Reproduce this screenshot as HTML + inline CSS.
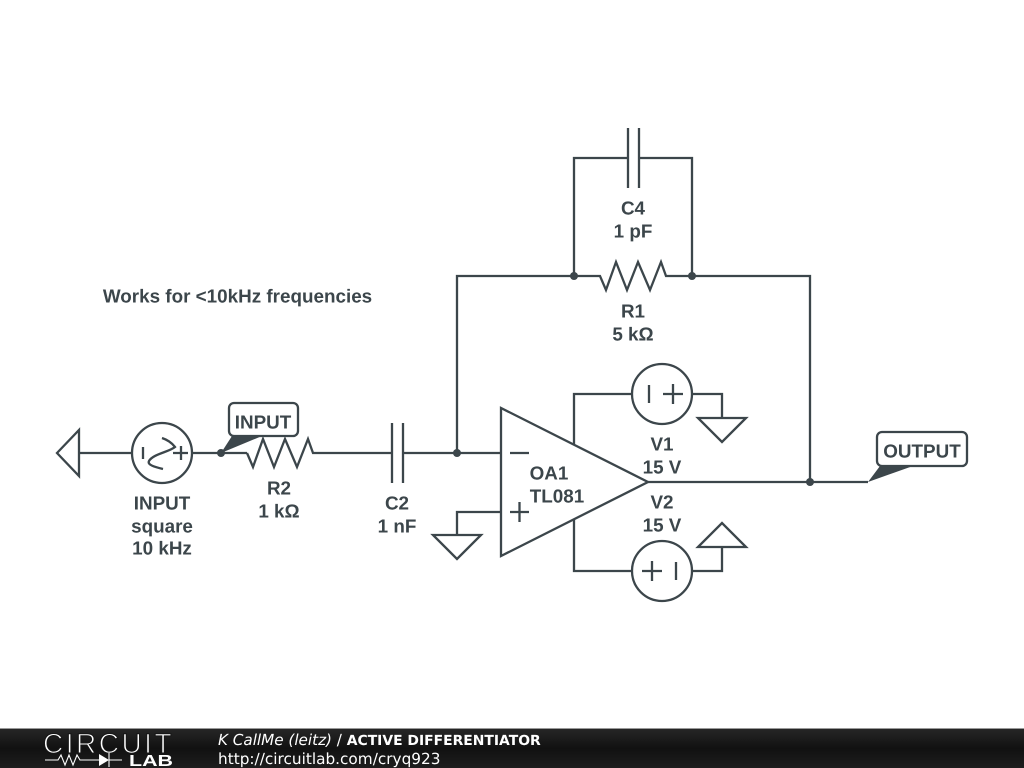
<!DOCTYPE html>
<html>
<head>
<meta charset="utf-8">
<style>
html,body{margin:0;padding:0;background:#fff;width:1024px;height:768px;overflow:hidden}
svg{display:block;text-rendering:geometricPrecision}
.w{fill:none;stroke:#3c464b;stroke-width:2.3;stroke-linejoin:miter}
.t text{font-family:"Liberation Sans",Arial,sans-serif;font-weight:bold;font-size:18.85px;fill:#3c464b;text-anchor:middle}
.d{fill:#3c464b}
</style>
</head>
<body>
<svg width="1024" height="768" viewBox="0 0 1024 768" xmlns="http://www.w3.org/2000/svg">
<defs>
<linearGradient id="g" x1="0" y1="0" x2="0" y2="1">
<stop offset="0" stop-color="#262626"/><stop offset="0.5" stop-color="#111"/><stop offset="1" stop-color="#1e1e1e"/>
</linearGradient>
</defs>
<rect width="1024" height="768" fill="#fff"/>

<!-- Input source -->
<path class="w" d="M79,453 L132,453 M192,453 L247,453 M57,453 L79,430 L79,476 Z"/>
<circle class="w" cx="162" cy="453" r="30"/>
<path class="w" d="M143,447 V459 M173,453 H188 M181,446 V460"/>
<path class="w" d="M162,438 C168,440 172,443 175,447 C169,452 153,454 149,461 C147,465 155,467 163,469" stroke-linejoin="round"/>

<!-- R2 -->
<path class="w" d="M247,453 L253,467 L263,439 L274,467 L285,439 L297,467 L308,439 L313,453 L392,453"/>
<!-- C2 -->
<path class="w" d="M392,423 V483 M403,423 V483 M403,453 H501"/>
<!-- Feedback -->
<path class="w" d="M457,453 V276 H600 L606,290 L616,262 L627,290 L638,262 L650,290 L661,262 L666,276 H810 V482"/>
<path class="w" d="M574,276 V158 H628 M628,128 V188 M639,128 V188 M639,158 H692 V276"/>

<!-- Op amp -->
<path class="w" d="M501,408 L501,556 L648,482 Z"/>
<path class="w" d="M510,453 H529 M510,512 H529 M519.500,502 V522"/>
<path class="w" d="M501,512 H457 V535 M433,535 H481 L457,559 Z"/>
<path class="w" d="M648,482 H868"/>

<!-- V1 -->
<path class="w" d="M574,444 V394 H632 M692,394 H722 V418 M698,418 H746 L722,442 Z"/>
<circle class="w" cx="662" cy="394" r="30"/>
<path class="w" d="M649,385 V403 M663,394 H683 M673,384 V404"/>
<!-- V2 -->
<path class="w" d="M574,519 V571 H632 M692,571 H722 V547 M698,547 H746 L722,523 Z"/>
<circle class="w" cx="662" cy="571" r="30"/>
<path class="w" d="M676,562 V580 M642,571 H662 M652,561 V581"/>

<!-- Junctions -->
<circle class="d" cx="221" cy="453" r="4"/>
<circle class="d" cx="457" cy="453" r="4"/>
<circle class="d" cx="574" cy="276" r="4"/>
<circle class="d" cx="692" cy="276" r="4"/>
<circle class="d" cx="810" cy="482" r="4"/>

<!-- Flags -->
<polygon class="d" points="221,453 232,436 262,436"/>
<rect x="229" y="403" width="69" height="33" rx="5" fill="#fff" stroke="#3c464b" stroke-width="2.300"/>
<polygon class="d" points="868,482 880,466 913,466"/>
<rect x="877" y="432" width="90" height="34" rx="5" fill="#fff" stroke="#3c464b" stroke-width="2.300"/>

<!-- Labels -->
<g class="t">
<text x="263" y="428.500">INPUT</text>
<text x="922" y="457.500">OUTPUT</text>
<text x="162" y="509.500">INPUT</text>
<text x="162" y="532.500">square</text>
<text x="162" y="554.500">10 kHz</text>
<text x="279" y="494.500">R2</text>
<text x="279" y="517.500">1 kΩ</text>
<text x="397" y="509.500">C2</text>
<text x="397" y="532.500">1 nF</text>
<text x="633" y="214.500">C4</text>
<text x="633" y="237.500">1 pF</text>
<text x="633" y="317.500">R1</text>
<text x="633" y="340.500">5 kΩ</text>
<text x="662" y="450.500">V1</text>
<text x="662" y="473.500">15 V</text>
<text x="662" y="508.500">V2</text>
<text x="662" y="531.500">15 V</text>
<text x="549" y="479.500">OA1</text>
<text x="557" y="502.500">TL081</text>
<text x="237.500" y="302.500">Works for &lt;10kHz frequencies</text>
</g>

<!-- Footer -->
<rect x="0" y="728" width="1024" height="1" fill="#999"/>
<rect x="0" y="729" width="1024" height="39" fill="url(#g)"/>
<text x="43" y="753" font-family="Liberation Sans, sans-serif" font-size="28" letter-spacing="2.500" fill="#fff" stroke="#171717" stroke-width="1.100">CIRCUIT</text>
<path fill="none" stroke="#fff" stroke-width="1.100" d="M45,760 H58 L61,755 L65,765 L69,755 L73,765 L77,755 L80,760 H99 M109,753 V767 M109,760 H122"/>
<polygon fill="#fff" points="99,754 109,760 99,766"/>
<text x="129" y="766" font-family="Liberation Sans, sans-serif" font-weight="bold" font-size="16" fill="#fff" textLength="44" lengthAdjust="spacingAndGlyphs">LAB</text>
<text x="218" y="745" font-family="DejaVu Sans, sans-serif" font-size="15.200" fill="#fff"><tspan font-style="italic">K CallMe (leitz)</tspan> / <tspan font-weight="bold" font-size="13.900">ACTIVE DIFFERENTIATOR</tspan></text>
<text x="218" y="764" font-family="DejaVu Sans, sans-serif" font-size="15.300" fill="#fff">http://circuitlab.com/cryq923</text>
</svg>
</body>
</html>
